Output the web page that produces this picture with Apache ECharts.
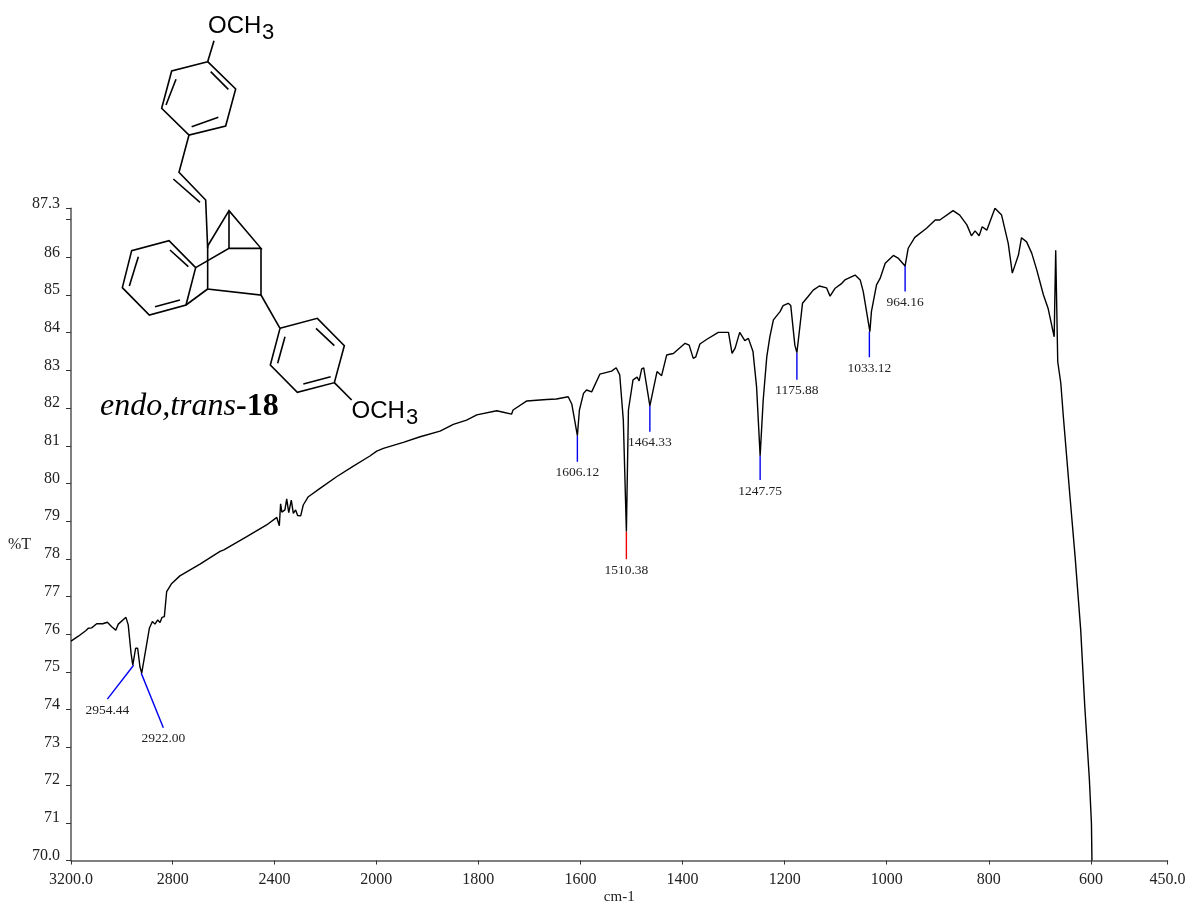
<!DOCTYPE html>
<html>
<head>
<meta charset="utf-8">
<style>
  html, body { margin: 0; padding: 0; background: #fff; }
  #chart { width: 1190px; height: 906px; }
</style>
<script src="https://cdn.jsdelivr.net/npm/echarts@6/dist/echarts.min.js"></script>
</head>
<body>
<div id="chart"></div>
<script>
// spectrum
const wavenumbers = [
  3200, 3171, 3141, 3132, 3119, 3099, 3075, 3069, 3057, 3040, 3024, 3014, 2984, 2975, 2964, 2957, 2951, 2946, 2938, 2929,
  2922, 2916, 2902, 2892, 2880, 2870, 2859, 2850, 2842, 2833, 2824, 2804, 2772, 2693, 2614, 2599, 2509, 2431, 2391, 2381,
  2376, 2371, 2359, 2352, 2344, 2334, 2326, 2317, 2309, 2297, 2287, 2267, 2221, 2156, 2090, 2025, 1999, 1986, 1947, 1914,
  1875, 1849, 1823, 1803, 1764, 1751, 1735, 1732, 1705, 1686, 1666, 1647, 1624, 1617, 1606, 1602, 1594, 1588, 1578, 1562,
  1539, 1530, 1523, 1516, 1510, 1506, 1497, 1489, 1485, 1480, 1476, 1464, 1450, 1441, 1431, 1425, 1418, 1395, 1387, 1379,
  1374, 1366, 1353, 1330, 1310, 1303, 1297, 1288, 1278, 1271, 1262, 1255, 1248, 1242, 1235, 1229, 1222, 1209, 1203, 1193,
  1188, 1180, 1176, 1172, 1165, 1154, 1144, 1132, 1118, 1111, 1101, 1088, 1082, 1062, 1052, 1046, 1033, 1030, 1020, 1013,
  1003, 987, 977, 964, 958, 945, 922, 905, 896, 870, 857, 843, 834, 827, 819, 813, 804, 788, 775, 762,
  754, 742, 736, 726, 716, 706, 693, 684, 672, 669, 665, 659, 654, 641, 631, 620, 612, 603, 599, 598
];
const transmittance = [
  75.82, 75.95, 76.10, 76.16, 76.17, 76.28, 76.28, 76.25, 76.32, 76.20, 76.11, 76.27, 76.45, 76.25, 75.50, 75.18, 75.18, 75.63, 75.63, 75.14,
  74.97, 74.98, 75.76, 76.16, 76.34, 76.27, 76.38, 76.31, 76.45, 76.47, 77.13, 77.35, 77.55, 77.86, 78.20, 78.24, 78.59, 78.90, 79.10, 78.88,
  79.46, 79.24, 79.30, 79.59, 79.23, 79.56, 79.21, 79.30, 79.15, 79.14, 79.43, 79.65, 79.87, 80.18, 80.46, 80.73, 80.86, 80.93, 81.09, 81.24,
  81.39, 81.57, 81.68, 81.82, 81.93, 81.89, 81.84, 81.95, 82.19, 82.21, 82.23, 82.24, 82.30, 82.11, 81.27, 81.95, 82.39, 82.48, 82.43, 82.90,
  82.98, 83.07, 82.88, 81.68, 78.73, 81.95, 82.75, 82.82, 82.72, 83.04, 83.07, 82.06, 82.97, 82.86, 83.41, 83.43, 83.45, 83.72, 83.67, 83.32,
  83.36, 83.70, 83.82, 84.01, 84.01, 83.45, 83.59, 84.01, 83.79, 83.85, 83.50, 82.57, 80.74, 82.21, 83.36, 83.89, 84.34, 84.56, 84.72, 84.78,
  84.72, 83.67, 83.47, 83.94, 84.78, 84.96, 85.13, 85.24, 85.19, 84.97, 85.18, 85.31, 85.40, 85.53, 85.40, 85.09, 84.03, 84.56, 85.27, 85.44,
  85.84, 86.05, 85.97, 85.77, 86.24, 86.53, 86.77, 86.99, 86.99, 87.24, 87.12, 86.86, 86.57, 86.70, 86.57, 86.81, 86.72, 87.30, 87.12, 86.37,
  85.58, 86.06, 86.52, 86.41, 86.11, 85.66, 85.00, 84.65, 83.89, 86.19, 83.23, 82.66, 81.77, 79.65, 78.06, 76.11, 74.08, 72.14, 70.99, 70.00
];

// picked peaks: where the leader starts on the curve and where it ends
const peakLabels = ['2954.44', '2922.00', '1606.12', '1510.38', '1464.33', '1247.75', '1175.88', '1033.12', '964.16'];
const peakWn = [2954, 2924, 1606, 1510, 1464, 1248, 1176, 1034, 964];
const peakT = [75.18, 74.97, 81.27, 78.73, 82.06, 80.74, 83.47, 84.03, 85.77];
const tipWn = [3057, 2837, 1606, 1510, 1464, 1248, 1176, 1034, 964];
const tipT = [74.28, 73.52, 80.58, 77.99, 81.37, 80.09, 82.75, 83.35, 85.09];
const strongestPeak = '1510.38';

const xTicks = [3200, 2800, 2400, 2000, 1800, 1600, 1400, 1200, 1000, 800, 600, 450];
const yTicks = [70, 71, 72, 73, 74, 75, 76, 77, 78, 79, 80, 81, 82, 83, 84, 85, 86, 87, 87.3];
const yLabelTicks = [70, 71, 72, 73, 74, 75, 76, 77, 78, 79, 80, 81, 82, 83, 84, 85, 86, 87.3];

// the instrument prints 3200-2000 at about half the scale of 2000-450
const HIGH_RANGE_SCALE = 0.4983;
const toAxis = (wn) => (wn > 2000 ? 2000 + (wn - 2000) * HIGH_RANGE_SCALE : wn);
const fromAxis = (u) => Math.round(u > 2000 ? 2000 + (u - 2000) / HIGH_RANGE_SCALE : u);

// structure drawing, traced at 3x from an origin of (90, 0)
const bondPaths = [
  [[353, 185], [437, 267], [407, 378], [297, 405], [215, 325], [245, 213], [353, 185]],
  [[362, 215], [415, 268]], [[385, 352], [305, 380]], [[228, 315], [258, 238]],
  [[353, 185], [372, 122]],
  [[297, 405], [267, 517], [347, 600], [353, 745]], [[250, 537], [330, 607]],
  [[353, 738], [417, 632], [513, 745], [417, 745], [317, 803]], [[417, 632], [417, 745]],
  [[353, 738], [353, 867], [513, 885], [513, 745]], [[353, 867], [288, 915]],
  [[317, 803], [288, 915], [178, 945], [97, 863], [125, 752], [237, 722], [317, 803]],
  [[240, 750], [295, 800]], [[195, 920], [270, 900]], [[118, 858], [145, 770]],
  [[513, 885], [570, 985]],
  [[570, 985], [682, 955], [763, 1037], [733, 1148], [622, 1177], [541, 1095], [570, 985]],
  [[678, 985], [733, 1037]], [[640, 1152], [722, 1130]], [[563, 1090], [585, 1010]],
  [[733, 1148], [785, 1200]]
];

const SERIF = '"Liberation Serif", "Times New Roman", serif';
const SANS = '"Liberation Sans", Arial, sans-serif';
const TEXT = '#222';

const chart = echarts.init(document.getElementById('chart'), null, { renderer: 'canvas' });

const curve = wavenumbers.map((wn, i) => [toAxis(wn), transmittance[i]]);

const peakSeries = peakLabels.map((label, i) => ({
  type: 'line',
  silent: true,
  symbol: 'circle',
  symbolSize: 0,
  showSymbol: true,
  animation: false,
  z: 1,
  lineStyle: { width: 1.4, color: label === strongestPeak ? '#f00000' : '#0000f0' },
  labelLayout: { hideOverlap: false },
  data: [
    { value: [toAxis(peakWn[i]), peakT[i]] },
    {
      value: [toAxis(tipWn[i]), tipT[i]],
      label: {
        show: true,
        position: 'bottom',
        distance: 4,
        formatter: label,
        fontFamily: SERIF,
        fontSize: 13.5,
        color: TEXT
      }
    }
  ]
}));

const bondGraphics = bondPaths.map((path) => ({
  type: 'polyline',
  silent: true,
  shape: { points: path.map((p) => [90 + p[0] / 3, p[1] / 3]) },
  style: { stroke: '#000', lineWidth: 1.6, fill: null, lineJoin: 'miter' }
}));

const moleculeText = (text, x, y, size) => ({
  type: 'text',
  silent: true,
  x: x,
  y: y,
  style: { text: text, fill: '#000', font: size + 'px ' + SANS, verticalAlign: 'middle', textAlign: 'left' }
});

chart.setOption({
  animation: false,
  backgroundColor: '#fff',
  grid: { left: 71, top: 208.3, right: 22.5, bottom: 45.5, outerBoundsMode: 'none' },
  xAxis: {
    type: 'value',
    inverse: true,
    min: toAxis(450),
    max: toAxis(3200),
    name: 'cm-1',
    nameLocation: 'middle',
    nameGap: 29,
    nameMoveOverlap: false,
    nameTextStyle: { fontFamily: SERIF, fontSize: 15, color: TEXT },
    splitLine: { show: false },
    axisLine: { lineStyle: { color: '#555', width: 1.5 } },
    axisTick: { length: 4, customValues: xTicks.map(toAxis), lineStyle: { color: '#333', width: 1 } },
    axisLabel: {
      customValues: xTicks.map(toAxis),
      margin: 11,
      hideOverlap: false,
      showMinLabel: true,
      showMaxLabel: true,
      fontFamily: SERIF,
      fontSize: 16,
      color: TEXT,
      formatter: (u) => {
        const wn = fromAxis(u);
        return wn === 3200 || wn === 450 ? wn.toFixed(1) : String(wn);
      }
    }
  },
  yAxis: {
    type: 'value',
    min: 70,
    max: 87.3,
    name: '%T',
    nameLocation: 'middle',
    nameRotate: 0,
    nameGap: 40,
    nameMoveOverlap: false,
    nameTextStyle: { fontFamily: SERIF, fontSize: 16, color: TEXT, verticalAlign: 'top', lineHeight: 20 },
    splitLine: { show: false },
    axisLine: { show: true, lineStyle: { color: '#555', width: 1.5 } },
    axisTick: { show: true, length: 5, customValues: yTicks, lineStyle: { color: '#333', width: 1 } },
    axisLabel: {
      customValues: yLabelTicks,
      margin: 11,
      hideOverlap: false,
      showMinLabel: true,
      showMaxLabel: true,
      fontFamily: SERIF,
      fontSize: 16,
      color: TEXT,
      verticalAlign: 'bottom',
      lineHeight: 10,
      formatter: (v) => (v === 70 ? '70.0' : String(v))
    }
  },
  series: [
    ...peakSeries,
    {
      type: 'line',
      silent: true,
      symbol: 'none',
      animation: false,
      z: 2,
      lineStyle: { width: 1.4, color: '#000' },
      data: curve
    }
  ],
  graphic: [
    ...bondGraphics,
    moleculeText('OCH', 208, 26, 24),
    moleculeText('3', 262, 33, 22),
    moleculeText('OCH', 351.5, 411, 24),
    moleculeText('3', 406, 418, 22),
    {
      type: 'text',
      silent: true,
      x: 100,
      y: 407,
      style: {
        text: '{i|endo,trans}{b|-18}',
        verticalAlign: 'middle',
        rich: {
          i: { font: 'italic 32px ' + SERIF, fill: '#000' },
          b: { font: 'bold 32px ' + SERIF, fill: '#000' }
        }
      }
    }
  ]
});
</script>
</body>
</html>
